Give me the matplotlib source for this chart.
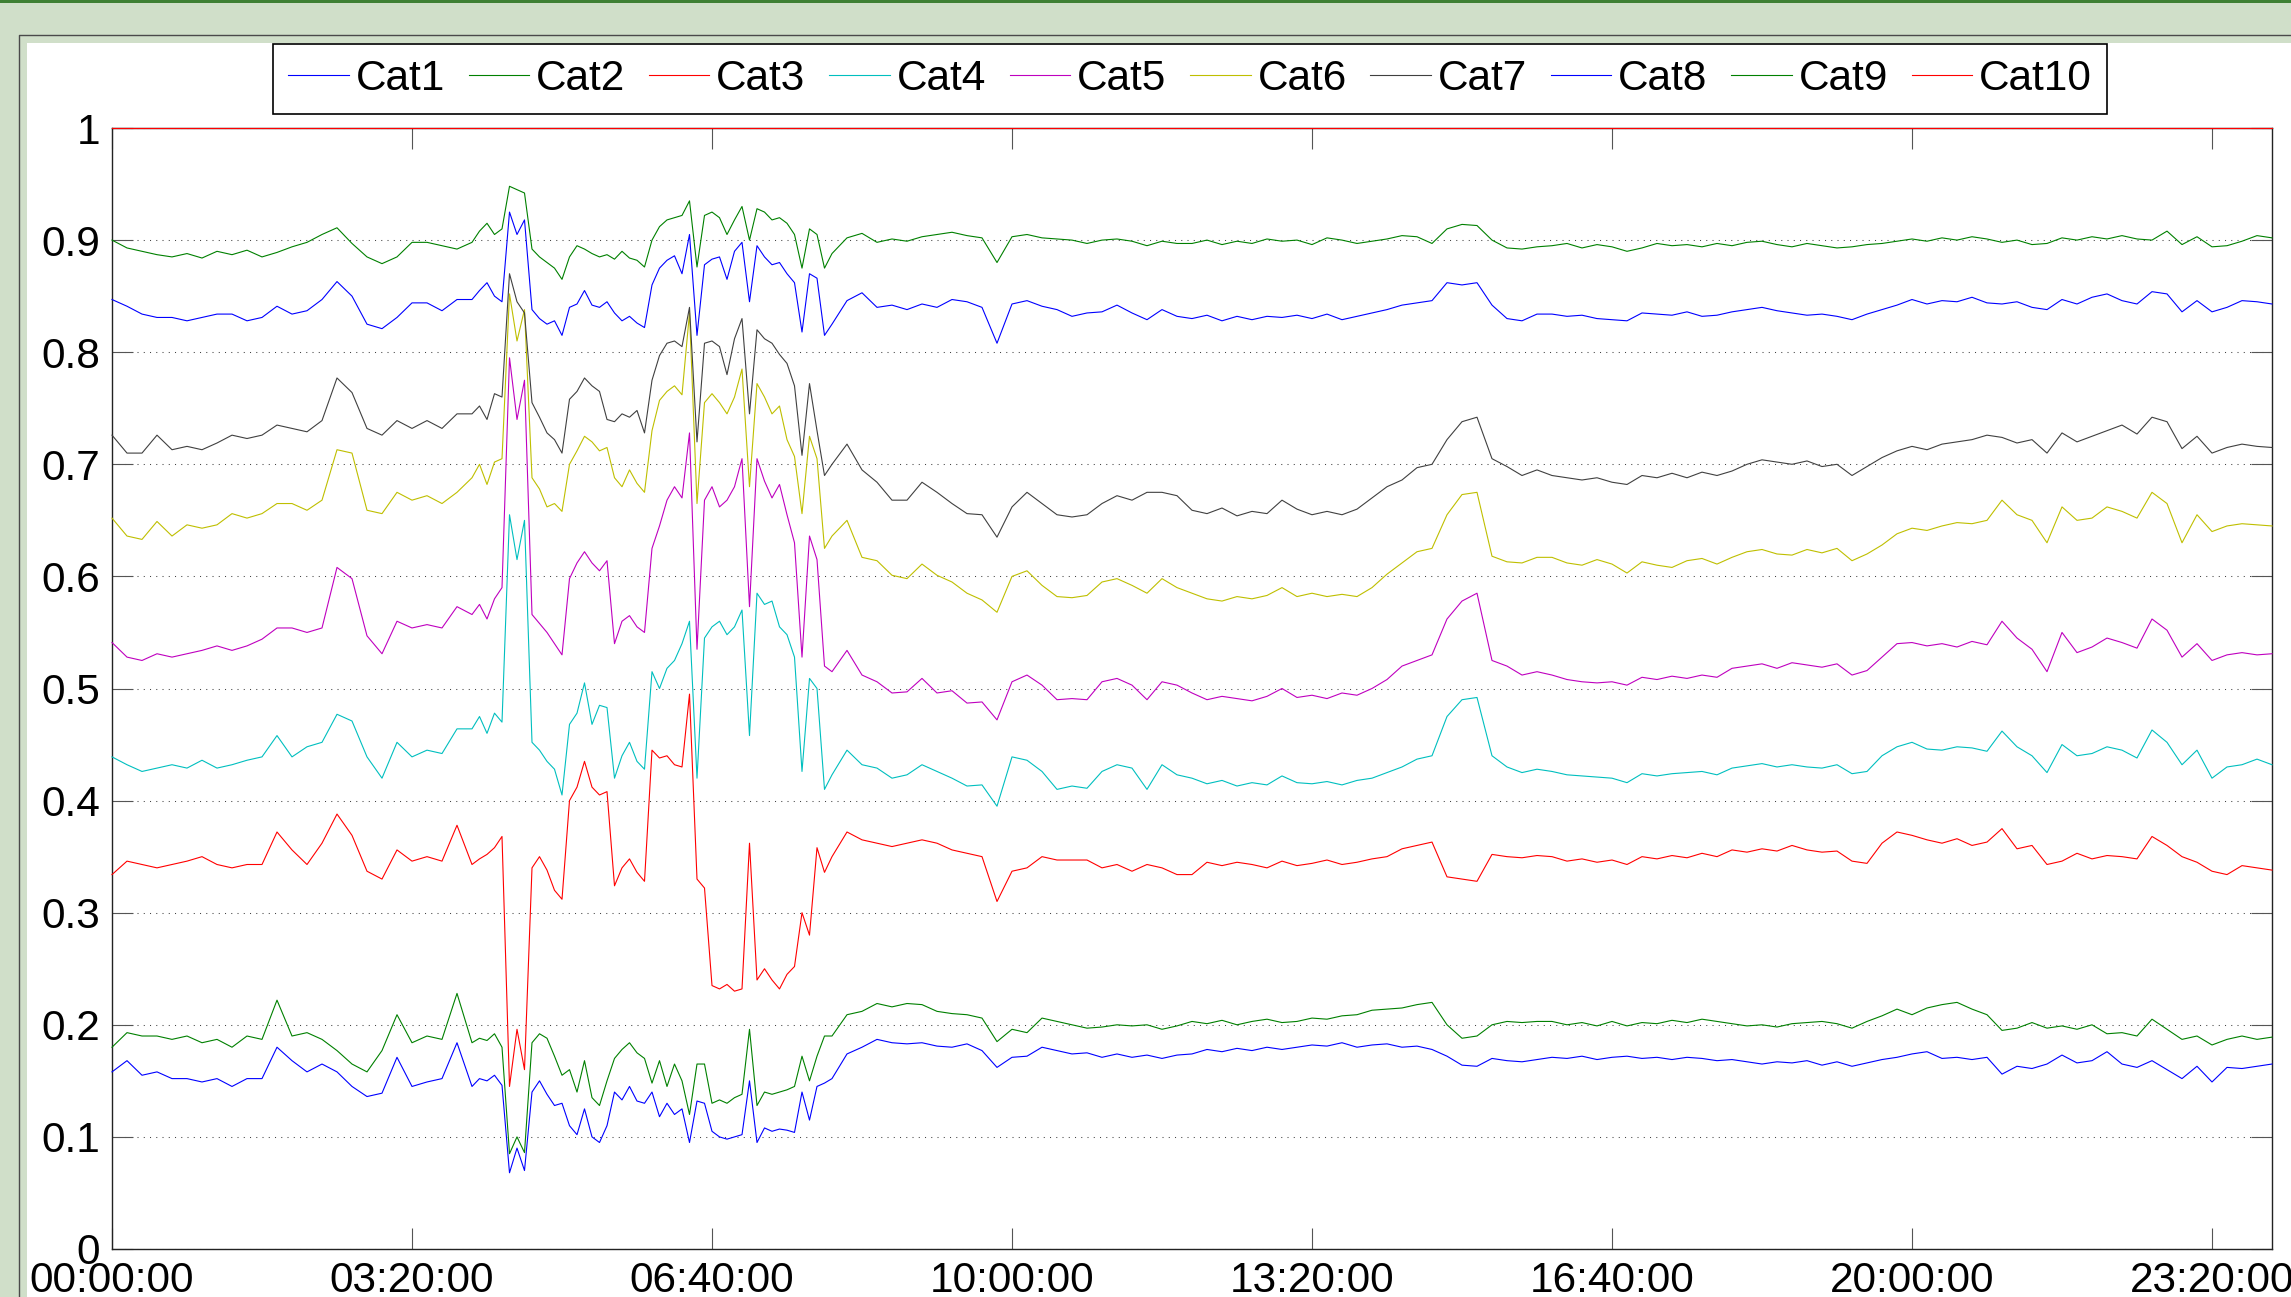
import numpy as np
import matplotlib
matplotlib.use('Agg')
import matplotlib.pyplot as plt
from matplotlib.patches import Rectangle
from matplotlib.lines import Line2D

plt.rcParams['font.family'] = ['Liberation Sans', 'DejaVu Sans']

# sample times, minutes after midnight (5 min steps in the busy 04:00-08:00 window)
minutes = np.concatenate([np.arange(0, 240, 10), np.arange(240, 480, 5), np.arange(480, 1441, 10)])

tick_seconds = [0, 12000, 24000, 36000, 48000, 60000, 72000, 84000]
tick_labels = ['00:00:00', '03:20:00', '06:40:00', '10:00:00', '13:20:00', '16:40:00', '20:00:00', '23:20:00']
names = ['Cat1', 'Cat2', 'Cat3', 'Cat4', 'Cat5', 'Cat6', 'Cat7', 'Cat8', 'Cat9', 'Cat10']

cat1 = [0.158, 0.168, 0.155, 0.158, 0.152, 0.152, 0.149, 0.152, 0.145, 0.152, 0.152, 0.180, 0.168, 0.158, 0.165, 0.158, 0.145, 0.136, 0.139, 0.171, 0.145, 0.149, 0.152, 0.184,
        0.145, 0.152, 0.150, 0.155, 0.146, 0.068, 0.090, 0.070, 0.140, 0.150, 0.138, 0.128, 0.130, 0.110, 0.102, 0.125, 0.100, 0.095, 0.110, 0.140, 0.133, 0.145, 0.132, 0.130,
        0.140, 0.118, 0.130, 0.120, 0.125, 0.095, 0.132, 0.130, 0.105, 0.100, 0.098, 0.100, 0.102, 0.150, 0.095, 0.108, 0.105, 0.107, 0.106, 0.104, 0.140, 0.115, 0.145, 0.148,
        0.152, 0.174, 0.180, 0.187, 0.184, 0.183, 0.184, 0.181, 0.180, 0.183, 0.177, 0.162, 0.171, 0.172, 0.180, 0.177, 0.174, 0.175, 0.171, 0.174, 0.171, 0.173, 0.170, 0.173,
        0.174, 0.178, 0.176, 0.179, 0.177, 0.180, 0.178, 0.180, 0.182, 0.181, 0.184, 0.180, 0.182, 0.183, 0.180, 0.181, 0.178, 0.172, 0.164, 0.163, 0.170, 0.168, 0.167, 0.169,
        0.171, 0.170, 0.172, 0.169, 0.171, 0.172, 0.170, 0.171, 0.169, 0.171, 0.170, 0.168, 0.169, 0.167, 0.165, 0.167, 0.166, 0.168, 0.164, 0.167, 0.163, 0.166, 0.169, 0.171,
        0.174, 0.176, 0.170, 0.171, 0.169, 0.171, 0.156, 0.163, 0.161, 0.165, 0.173, 0.166, 0.168, 0.176, 0.165, 0.162, 0.168, 0.160, 0.152, 0.163, 0.149, 0.162, 0.161, 0.163,
        0.165]
cat2 = [0.180, 0.193, 0.190, 0.190, 0.187, 0.190, 0.184, 0.187, 0.180, 0.190, 0.187, 0.222, 0.190, 0.193, 0.187, 0.177, 0.165, 0.158, 0.177, 0.209, 0.184, 0.190, 0.187, 0.228,
        0.184, 0.188, 0.186, 0.192, 0.180, 0.085, 0.100, 0.086, 0.184, 0.192, 0.188, 0.172, 0.155, 0.160, 0.140, 0.168, 0.135, 0.128, 0.150, 0.170, 0.178, 0.184, 0.175, 0.170,
        0.148, 0.168, 0.145, 0.165, 0.150, 0.120, 0.165, 0.165, 0.130, 0.133, 0.130, 0.135, 0.138, 0.196, 0.128, 0.140, 0.138, 0.140, 0.142, 0.145, 0.172, 0.150, 0.172, 0.190,
        0.190, 0.209, 0.212, 0.219, 0.216, 0.219, 0.218, 0.212, 0.210, 0.209, 0.206, 0.185, 0.196, 0.193, 0.206, 0.203, 0.200, 0.197, 0.198, 0.200, 0.199, 0.200, 0.196, 0.199,
        0.203, 0.201, 0.204, 0.200, 0.203, 0.205, 0.202, 0.203, 0.206, 0.205, 0.208, 0.209, 0.213, 0.214, 0.215, 0.218, 0.220, 0.200, 0.188, 0.190, 0.200, 0.203, 0.202, 0.203,
        0.203, 0.200, 0.202, 0.199, 0.203, 0.199, 0.202, 0.201, 0.204, 0.202, 0.205, 0.203, 0.201, 0.199, 0.200, 0.198, 0.201, 0.202, 0.203, 0.201, 0.197, 0.203, 0.208, 0.214,
        0.209, 0.215, 0.218, 0.220, 0.214, 0.209, 0.195, 0.197, 0.202, 0.197, 0.199, 0.196, 0.200, 0.192, 0.193, 0.190, 0.205, 0.196, 0.187, 0.190, 0.182, 0.187, 0.190, 0.187,
        0.189]
cat3 = [0.334, 0.346, 0.343, 0.340, 0.343, 0.346, 0.350, 0.343, 0.340, 0.343, 0.343, 0.372, 0.356, 0.343, 0.362, 0.388, 0.369, 0.337, 0.330, 0.356, 0.346, 0.350, 0.346, 0.378,
        0.343, 0.348, 0.352, 0.358, 0.368, 0.145, 0.196, 0.160, 0.340, 0.350, 0.338, 0.320, 0.312, 0.400, 0.412, 0.435, 0.412, 0.405, 0.408, 0.324, 0.340, 0.348, 0.336, 0.328,
        0.445, 0.438, 0.440, 0.432, 0.430, 0.495, 0.330, 0.322, 0.235, 0.232, 0.236, 0.230, 0.232, 0.362, 0.240, 0.250, 0.240, 0.232, 0.245, 0.252, 0.300, 0.280, 0.358, 0.336,
        0.350, 0.372, 0.365, 0.362, 0.359, 0.362, 0.365, 0.362, 0.356, 0.353, 0.350, 0.310, 0.337, 0.340, 0.350, 0.347, 0.347, 0.347, 0.340, 0.343, 0.337, 0.343, 0.340, 0.334,
        0.334, 0.345, 0.342, 0.345, 0.343, 0.340, 0.346, 0.342, 0.344, 0.347, 0.343, 0.345, 0.348, 0.350, 0.357, 0.360, 0.363, 0.332, 0.330, 0.328, 0.352, 0.350, 0.349, 0.351,
        0.350, 0.346, 0.348, 0.345, 0.347, 0.343, 0.350, 0.348, 0.351, 0.349, 0.353, 0.350, 0.356, 0.354, 0.357, 0.355, 0.360, 0.356, 0.354, 0.355, 0.346, 0.344, 0.362, 0.372,
        0.369, 0.365, 0.362, 0.366, 0.360, 0.363, 0.375, 0.357, 0.360, 0.343, 0.346, 0.353, 0.348, 0.351, 0.350, 0.348, 0.368, 0.360, 0.350, 0.345, 0.337, 0.334, 0.342, 0.340,
        0.338]
cat4 = [0.439, 0.432, 0.426, 0.429, 0.432, 0.429, 0.436, 0.429, 0.432, 0.436, 0.439, 0.458, 0.439, 0.448, 0.452, 0.477, 0.471, 0.439, 0.420, 0.452, 0.439, 0.445, 0.442, 0.464,
        0.464, 0.475, 0.460, 0.478, 0.470, 0.655, 0.615, 0.650, 0.452, 0.445, 0.435, 0.428, 0.405, 0.468, 0.478, 0.505, 0.468, 0.485, 0.483, 0.420, 0.440, 0.452, 0.435, 0.428,
        0.515, 0.500, 0.518, 0.525, 0.540, 0.560, 0.420, 0.545, 0.555, 0.560, 0.548, 0.555, 0.570, 0.458, 0.585, 0.575, 0.578, 0.555, 0.548, 0.528, 0.426, 0.509, 0.500, 0.410,
        0.423, 0.445, 0.432, 0.429, 0.420, 0.423, 0.432, 0.426, 0.420, 0.413, 0.414, 0.395, 0.439, 0.436, 0.426, 0.410, 0.413, 0.411, 0.426, 0.432, 0.429, 0.410, 0.432, 0.423,
        0.420, 0.415, 0.418, 0.413, 0.416, 0.414, 0.422, 0.416, 0.415, 0.417, 0.414, 0.418, 0.420, 0.425, 0.430, 0.437, 0.440, 0.475, 0.490, 0.492, 0.440, 0.430, 0.425, 0.428,
        0.426, 0.423, 0.422, 0.421, 0.420, 0.416, 0.424, 0.422, 0.424, 0.425, 0.426, 0.423, 0.429, 0.431, 0.433, 0.430, 0.432, 0.430, 0.429, 0.432, 0.424, 0.426, 0.440, 0.448,
        0.452, 0.446, 0.445, 0.448, 0.447, 0.444, 0.462, 0.448, 0.440, 0.425, 0.450, 0.440, 0.442, 0.448, 0.445, 0.438, 0.463, 0.452, 0.432, 0.445, 0.420, 0.430, 0.432, 0.437,
        0.432]
cat5 = [0.541, 0.528, 0.525, 0.531, 0.528, 0.531, 0.534, 0.538, 0.534, 0.538, 0.544, 0.554, 0.554, 0.550, 0.554, 0.608, 0.598, 0.547, 0.531, 0.560, 0.554, 0.557, 0.554, 0.573,
        0.566, 0.575, 0.562, 0.580, 0.590, 0.795, 0.740, 0.775, 0.566, 0.558, 0.550, 0.540, 0.530, 0.598, 0.612, 0.622, 0.612, 0.605, 0.614, 0.540, 0.560, 0.565, 0.555, 0.550,
        0.625, 0.645, 0.668, 0.680, 0.670, 0.728, 0.535, 0.668, 0.680, 0.662, 0.668, 0.680, 0.705, 0.573, 0.705, 0.685, 0.670, 0.682, 0.655, 0.630, 0.528, 0.636, 0.615, 0.520,
        0.515, 0.534, 0.512, 0.506, 0.496, 0.497, 0.509, 0.496, 0.498, 0.487, 0.488, 0.472, 0.506, 0.512, 0.503, 0.490, 0.491, 0.490, 0.506, 0.509, 0.503, 0.490, 0.506, 0.503,
        0.496, 0.490, 0.493, 0.491, 0.489, 0.493, 0.500, 0.492, 0.494, 0.491, 0.496, 0.494, 0.500, 0.508, 0.520, 0.525, 0.530, 0.562, 0.578, 0.585, 0.525, 0.520, 0.512, 0.515,
        0.512, 0.508, 0.506, 0.505, 0.506, 0.503, 0.510, 0.508, 0.511, 0.509, 0.512, 0.510, 0.518, 0.520, 0.522, 0.518, 0.523, 0.521, 0.519, 0.522, 0.512, 0.516, 0.528, 0.540,
        0.541, 0.538, 0.540, 0.537, 0.542, 0.539, 0.560, 0.545, 0.535, 0.515, 0.550, 0.532, 0.537, 0.545, 0.541, 0.536, 0.562, 0.552, 0.528, 0.540, 0.525, 0.530, 0.532, 0.530,
        0.531]
cat6 = [0.652, 0.636, 0.633, 0.649, 0.636, 0.646, 0.643, 0.646, 0.656, 0.652, 0.656, 0.665, 0.665, 0.659, 0.668, 0.713, 0.710, 0.659, 0.656, 0.675, 0.668, 0.672, 0.665, 0.675,
        0.688, 0.700, 0.682, 0.702, 0.705, 0.852, 0.810, 0.838, 0.688, 0.678, 0.662, 0.665, 0.658, 0.700, 0.712, 0.725, 0.720, 0.712, 0.715, 0.688, 0.680, 0.695, 0.683, 0.675,
        0.730, 0.757, 0.765, 0.770, 0.762, 0.835, 0.665, 0.755, 0.763, 0.755, 0.745, 0.760, 0.785, 0.680, 0.772, 0.760, 0.745, 0.752, 0.722, 0.707, 0.656, 0.725, 0.705, 0.625,
        0.636, 0.650, 0.617, 0.614, 0.601, 0.598, 0.611, 0.601, 0.595, 0.585, 0.579, 0.568, 0.600, 0.605, 0.592, 0.582, 0.581, 0.583, 0.595, 0.598, 0.592, 0.585, 0.598, 0.590,
        0.585, 0.580, 0.578, 0.582, 0.580, 0.583, 0.590, 0.582, 0.585, 0.582, 0.584, 0.582, 0.590, 0.602, 0.612, 0.622, 0.625, 0.655, 0.673, 0.675, 0.618, 0.613, 0.612, 0.617,
        0.617, 0.612, 0.610, 0.615, 0.611, 0.603, 0.613, 0.610, 0.608, 0.614, 0.616, 0.611, 0.617, 0.622, 0.624, 0.620, 0.619, 0.624, 0.621, 0.625, 0.614, 0.620, 0.628, 0.638,
        0.643, 0.641, 0.645, 0.648, 0.647, 0.650, 0.668, 0.655, 0.650, 0.630, 0.662, 0.650, 0.652, 0.662, 0.658, 0.652, 0.675, 0.665, 0.630, 0.655, 0.640, 0.645, 0.647, 0.646,
        0.645]
cat7 = [0.726, 0.710, 0.710, 0.726, 0.713, 0.716, 0.713, 0.719, 0.726, 0.723, 0.726, 0.735, 0.732, 0.729, 0.739, 0.777, 0.764, 0.732, 0.726, 0.739, 0.732, 0.739, 0.732, 0.745,
        0.745, 0.752, 0.740, 0.763, 0.760, 0.870, 0.845, 0.835, 0.755, 0.742, 0.728, 0.722, 0.710, 0.758, 0.765, 0.777, 0.770, 0.765, 0.740, 0.738, 0.745, 0.742, 0.748, 0.728,
        0.775, 0.797, 0.808, 0.810, 0.805, 0.840, 0.720, 0.808, 0.810, 0.805, 0.780, 0.812, 0.830, 0.745, 0.820, 0.812, 0.808, 0.798, 0.790, 0.770, 0.708, 0.772, 0.730, 0.690,
        0.700, 0.718, 0.695, 0.684, 0.668, 0.668, 0.684, 0.675, 0.665, 0.656, 0.655, 0.635, 0.662, 0.675, 0.665, 0.655, 0.653, 0.655, 0.665, 0.672, 0.668, 0.675, 0.675, 0.672,
        0.659, 0.656, 0.661, 0.654, 0.658, 0.656, 0.668, 0.660, 0.655, 0.658, 0.655, 0.660, 0.670, 0.680, 0.686, 0.697, 0.700, 0.722, 0.738, 0.742, 0.705, 0.698, 0.690, 0.695,
        0.690, 0.688, 0.686, 0.688, 0.684, 0.682, 0.690, 0.688, 0.692, 0.688, 0.693, 0.690, 0.694, 0.700, 0.704, 0.702, 0.700, 0.703, 0.698, 0.700, 0.690, 0.698, 0.706, 0.712,
        0.716, 0.713, 0.718, 0.720, 0.722, 0.726, 0.724, 0.719, 0.722, 0.710, 0.728, 0.720, 0.725, 0.730, 0.735, 0.727, 0.742, 0.738, 0.714, 0.725, 0.710, 0.715, 0.718, 0.716,
        0.715]
cat8 = [0.847, 0.841, 0.834, 0.831, 0.831, 0.828, 0.831, 0.834, 0.834, 0.828, 0.831, 0.841, 0.834, 0.837, 0.847, 0.863, 0.850, 0.825, 0.821, 0.831, 0.844, 0.844, 0.837, 0.847,
        0.847, 0.855, 0.862, 0.850, 0.845, 0.925, 0.905, 0.918, 0.838, 0.830, 0.825, 0.828, 0.815, 0.840, 0.843, 0.855, 0.842, 0.840, 0.845, 0.835, 0.828, 0.832, 0.826, 0.822,
        0.860, 0.875, 0.882, 0.886, 0.870, 0.905, 0.815, 0.878, 0.883, 0.885, 0.865, 0.890, 0.898, 0.845, 0.895, 0.885, 0.878, 0.880, 0.870, 0.862, 0.818, 0.870, 0.866, 0.815,
        0.825, 0.846, 0.853, 0.840, 0.842, 0.838, 0.843, 0.840, 0.847, 0.845, 0.840, 0.808, 0.843, 0.846, 0.841, 0.838, 0.832, 0.835, 0.836, 0.842, 0.835, 0.829, 0.838, 0.832,
        0.830, 0.833, 0.828, 0.832, 0.829, 0.832, 0.831, 0.833, 0.830, 0.834, 0.829, 0.832, 0.835, 0.838, 0.842, 0.844, 0.846, 0.862, 0.860, 0.862, 0.842, 0.830, 0.828, 0.834,
        0.834, 0.832, 0.833, 0.830, 0.829, 0.828, 0.835, 0.834, 0.833, 0.836, 0.832, 0.833, 0.836, 0.838, 0.840, 0.837, 0.835, 0.833, 0.834, 0.832, 0.829, 0.834, 0.838, 0.842,
        0.847, 0.843, 0.846, 0.845, 0.849, 0.844, 0.843, 0.845, 0.840, 0.838, 0.847, 0.843, 0.849, 0.852, 0.846, 0.843, 0.854, 0.852, 0.836, 0.846, 0.836, 0.840, 0.846, 0.845,
        0.843]
cat9 = [0.900, 0.893, 0.890, 0.887, 0.885, 0.888, 0.884, 0.890, 0.887, 0.891, 0.885, 0.889, 0.894, 0.898, 0.905, 0.911, 0.897, 0.885, 0.879, 0.885, 0.898, 0.898, 0.895, 0.892,
        0.898, 0.908, 0.915, 0.905, 0.910, 0.948, 0.945, 0.942, 0.892, 0.885, 0.880, 0.875, 0.865, 0.885, 0.895, 0.892, 0.888, 0.885, 0.887, 0.883, 0.890, 0.884, 0.882, 0.876,
        0.900, 0.912, 0.918, 0.920, 0.922, 0.935, 0.876, 0.922, 0.925, 0.920, 0.905, 0.918, 0.930, 0.900, 0.928, 0.925, 0.918, 0.920, 0.915, 0.905, 0.875, 0.910, 0.905, 0.875,
        0.888, 0.902, 0.906, 0.898, 0.901, 0.899, 0.903, 0.905, 0.907, 0.904, 0.902, 0.880, 0.903, 0.905, 0.902, 0.901, 0.900, 0.897, 0.900, 0.901, 0.899, 0.895, 0.899, 0.897,
        0.897, 0.900, 0.896, 0.899, 0.897, 0.901, 0.899, 0.900, 0.896, 0.902, 0.900, 0.897, 0.899, 0.901, 0.904, 0.903, 0.897, 0.910, 0.914, 0.913, 0.900, 0.893, 0.892, 0.894,
        0.895, 0.897, 0.893, 0.896, 0.894, 0.890, 0.893, 0.897, 0.895, 0.896, 0.894, 0.897, 0.895, 0.898, 0.899, 0.896, 0.894, 0.897, 0.895, 0.893, 0.894, 0.896, 0.897, 0.899,
        0.901, 0.899, 0.902, 0.900, 0.903, 0.901, 0.898, 0.900, 0.896, 0.897, 0.902, 0.900, 0.903, 0.901, 0.904, 0.901, 0.900, 0.908, 0.896, 0.903, 0.894, 0.895, 0.899, 0.904,
        0.902]
cat10 = np.full(len(minutes), 1.0)  # the running total, flat at 1

series = [cat1, cat2, cat3, cat4, cat5, cat6, cat7, cat8, cat9, cat10]
# matlab's default line colours, cycling
colors = [(0, 0, 1), (0, 0.5, 0), (1, 0, 0), (0, 0.75, 0.75), (0.75, 0, 0.75),
          (0.75, 0.75, 0), (0.25, 0.25, 0.25), (0, 0, 1), (0, 0.5, 0), (1, 0, 0)]

W, H = 2291, 1297
fig = plt.figure(figsize=(W / 100, H / 100), dpi=100)
fig.patch.set_facecolor('#d0dfc9')

# window decorations: dark band on top, grey frame, white panel
fig.add_artist(Rectangle((0, 1 - 3 / H), 1, 3 / H, transform=fig.transFigure,
                         facecolor='#3e8034', edgecolor='none', zorder=0))
fig.add_artist(Rectangle((27 / W, 0), 1, 1 - 43 / H, transform=fig.transFigure,
                         facecolor='white', edgecolor='none', zorder=0))
fig.add_artist(Line2D([18.5 / W, 18.5 / W, 1], [0, 1 - 34.5 / H, 1 - 34.5 / H],
                      transform=fig.transFigure, color='#4a4a4a', lw=1.0, zorder=1))

ax = fig.add_axes([112 / W, 48 / H, 2160 / W, 1121 / H])
x = minutes * 60
for name, vals, c in zip(names, series, colors):
    ax.plot(x, vals, color=c, lw=0.8, label=name, clip_on=False, zorder=3)

ax.set_xlim(0, 86400)
ax.set_ylim(0, 1)
ax.set_yticks(np.arange(0, 1.01, 0.1))
ax.set_yticklabels(['0', '0.1', '0.2', '0.3', '0.4', '0.5', '0.6', '0.7', '0.8', '0.9', '1'])
ax.set_xticks(tick_seconds)
ax.set_xticklabels(tick_labels)
ax.yaxis.grid(True, linestyle=(0, (1, 5)), color='#444444', lw=0.75)
ax.xaxis.grid(False)
ax.tick_params(direction='in', length=15, width=0.8, color='#555555',
               top=True, right=True, labelsize=30.5)
ax.tick_params(axis='y', pad=8.5)
ax.tick_params(axis='x', pad=9)
for sp in ax.spines.values():
    sp.set_linewidth(1.0)
    sp.set_color('#222222')

leg = ax.legend(loc='upper center', bbox_to_anchor=(1190 / W, 1 - 44 / H),
                bbox_transform=fig.transFigure, ncol=10, fontsize=30.5,
                handlelength=1.43, handletextpad=0.16, columnspacing=0.56,
                borderpad=0.35, borderaxespad=0, fancybox=False,
                edgecolor='black', framealpha=1)
leg.get_frame().set_linewidth(1.2)

fig.savefig('out.png', dpi=100, facecolor=fig.get_facecolor())
